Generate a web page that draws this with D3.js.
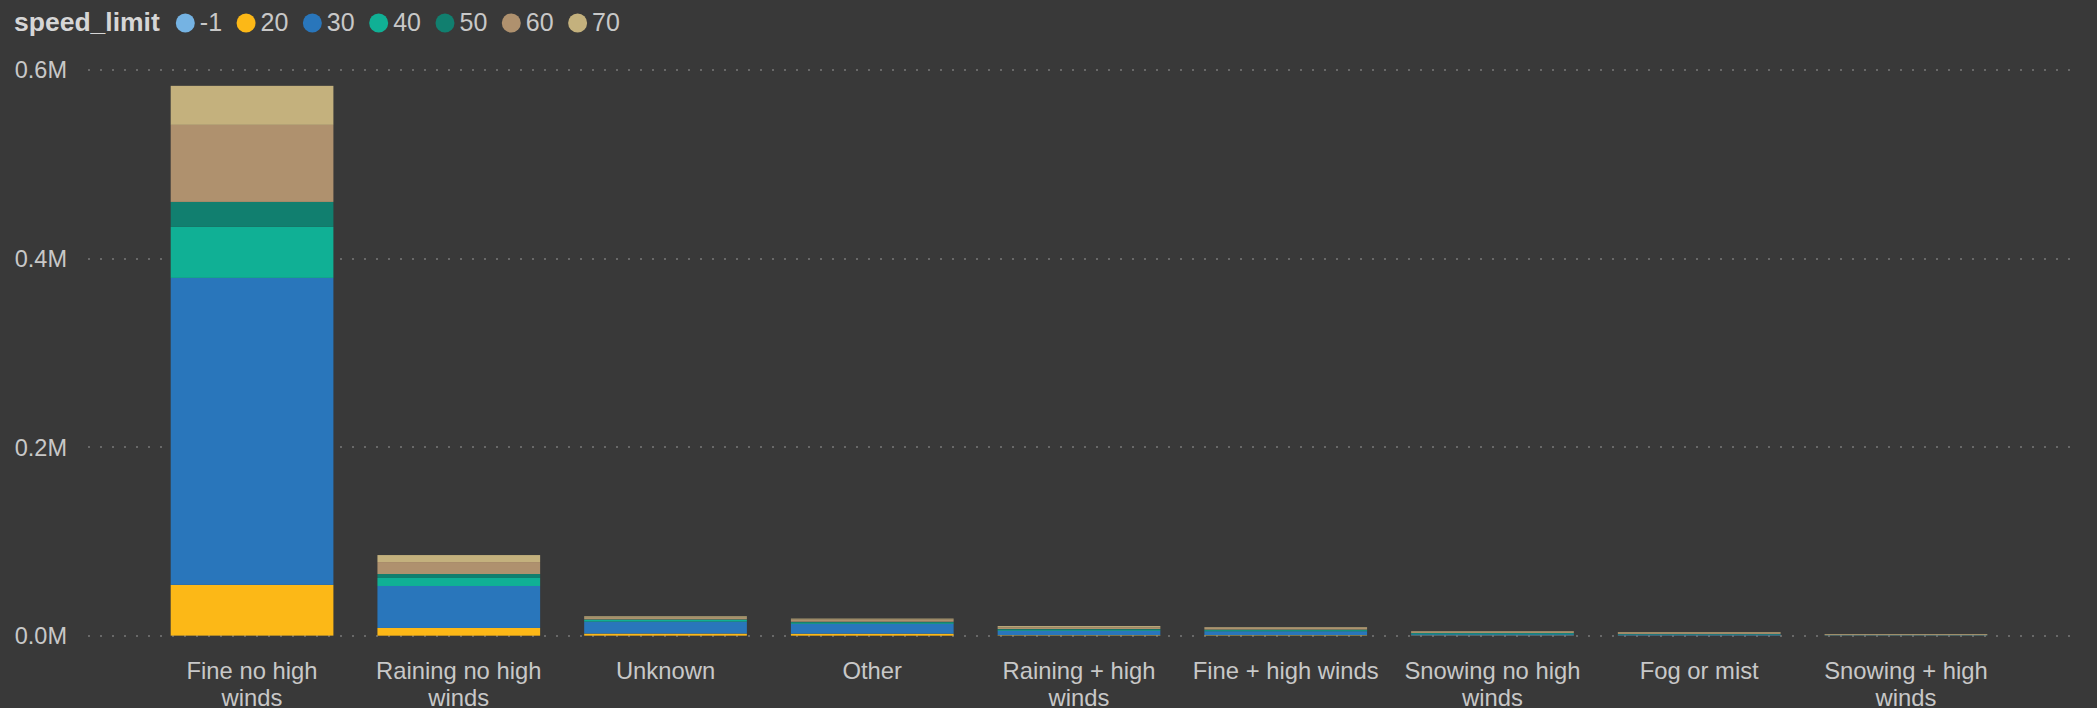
<!DOCTYPE html>
<html>
<head>
<meta charset="utf-8">
<script src="https://cdn.jsdelivr.net/npm/d3@7"></script>
<style>
  html, body { margin: 0; padding: 0; background: #393939; overflow: hidden; }
  svg { display: block; font-family: "Liberation Sans", Arial, sans-serif; }
</style>
</head>
<body>
<svg id="chart" width="2097" height="708"></svg>
<script>
// weather conditions along the x axis
const categories = [
  "Fine no high winds", "Raining no high winds", "Unknown", "Other",
  "Raining + high winds", "Fine + high winds", "Snowing no high winds",
  "Fog or mist", "Snowing + high winds"
];
const speedLimits = ["-1", "20", "30", "40", "50", "60", "70"];

// casualties per speed limit, one value per category
const limitMinus1 = [100, 20, 50, 20, 5, 5, 2, 2, 1];
const limit20 = [53800, 8200, 2200, 2100, 500, 500, 300, 200, 50];
const limit30 = [325600, 44500, 12700, 10600, 4800, 4200, 1200, 1000, 300];
const limit40 = [54100, 8500, 1800, 1400, 1100, 1100, 1000, 400, 100];
const limit50 = [26500, 4200, 600, 700, 700, 700, 400, 300, 50];
const limit60 = [81700, 12700, 1800, 2500, 1800, 1800, 1300, 1400, 500];
const limit70 = [41400, 7400, 1400, 800, 1300, 700, 600, 600, 700];

const yTicks = [0, 200000, 400000, 600000];

const seriesValues = [limitMinus1, limit20, limit30, limit40, limit50, limit60, limit70];
const colors = ["#75b3e3", "#fcb817", "#2976bb", "#10b095", "#117f6f", "#af916e", "#c4b17d"];

const rows = categories.map((cat, i) => {
  const row = { category: cat };
  speedLimits.forEach((s, j) => (row[s] = seriesValues[j][i]));
  return row;
});

const svg = d3.select("#chart");
const color = d3.scaleOrdinal().domain(speedLimits).range(colors);

const x = d3.scaleBand()
  .domain(categories)
  .range([88, 2070])
  .paddingInner(0.213)
  .paddingOuter(0.4);

const y = d3.scaleLinear().domain([0, 600000]).range([635.7, 70]);

// dotted gridlines
svg.append("g")
  .selectAll("line")
  .data(yTicks)
  .join("line")
  .attr("x1", 88)
  .attr("x2", 2070)
  .attr("y1", (d) => Math.round(y(d)))
  .attr("y2", (d) => Math.round(y(d)))
  .attr("stroke", "#686868")
  .attr("stroke-width", 2)
  .attr("stroke-dasharray", "2,10");

// y tick labels
svg.append("g")
  .selectAll("text")
  .data(yTicks)
  .join("text")
  .attr("x", 67)
  .attr("y", (d) => y(d))
  .attr("dy", "0.36em")
  .attr("text-anchor", "end")
  .attr("font-size", 23.5)
  .attr("fill", "#c8c8c8")
  .text((d) => d3.format(".1f")(d / 1e6) + "M");

// stacked bars
const stacked = d3.stack().keys(speedLimits)(rows);
svg.append("g")
  .selectAll("g")
  .data(stacked)
  .join("g")
  .attr("fill", (s) => color(s.key))
  .selectAll("rect")
  .data((s) => s)
  .join("rect")
  .attr("x", (d) => x(d.data.category))
  .attr("width", x.bandwidth())
  .attr("y", (d) => y(d[1]))
  .attr("height", (d) => Math.max(0, y(d[0]) - y(d[1])));

// x labels, wrapped
function wrapText(textSelection, widthLimit) {
  textSelection.each(function (cat) {
    const el = d3.select(this);
    const words = cat.split(/\s+/).reverse();
    let line = [];
    let tspan = el.text(null).append("tspan").attr("x", el.attr("x")).attr("dy", 0);
    let word;
    while ((word = words.pop())) {
      line.push(word);
      tspan.text(line.join(" "));
      if (tspan.node().getComputedTextLength() > widthLimit && line.length > 1) {
        line.pop();
        tspan.text(line.join(" "));
        line = [word];
        tspan = el.append("tspan").attr("x", el.attr("x")).attr("dy", 27).text(word);
      }
    }
  });
}

svg.append("g")
  .selectAll("text")
  .data(categories)
  .join("text")
  .attr("x", (d) => x(d) + x.bandwidth() / 2)
  .attr("y", 679)
  .attr("text-anchor", "middle")
  .attr("font-size", 23.8)
  .attr("fill", "#c8c8c8")
  .text((d) => d)
  .call(wrapText, 188);

// legend
const legend = svg.append("g");
const title = legend.append("text")
  .attr("x", 14)
  .attr("y", 31)
  .attr("font-size", 26.5)
  .attr("font-weight", "bold")
  .attr("fill", "#d6d6d6")
  .text("speed_limit");

let cursor = 14 + title.node().getComputedTextLength() + 16;
speedLimits.forEach((s) => {
  legend.append("circle")
    .attr("cx", cursor + 9.5)
    .attr("cy", 23)
    .attr("r", 9.5)
    .attr("fill", color(s));
  const t = legend.append("text")
    .attr("x", cursor + 24)
    .attr("y", 31)
    .attr("font-size", 25)
    .attr("fill", "#c8c8c8")
    .text(s);
  cursor += 24 + t.node().getComputedTextLength() + 14.5;
});
</script>
</body>
</html>
